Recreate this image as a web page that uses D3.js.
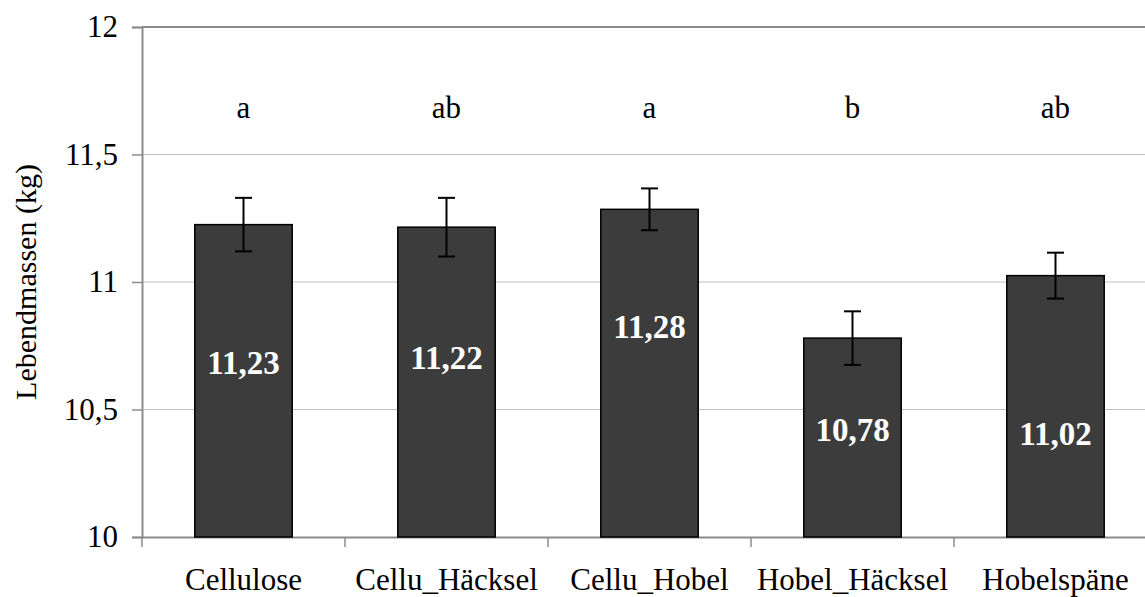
<!DOCTYPE html>
<html>
<head>
<meta charset="utf-8">
<script src="https://cdn.jsdelivr.net/npm/d3@7"></script>
<style>
    body { margin: 0; background: #fff; }
    text { font-family: "Liberation Serif", "Times New Roman", serif; }
</style>
</head>
<body>
<div id="chart"></div>
<script>

let groups = ['Cellulose', 'Cellu_Häcksel', 'Cellu_Hobel', 'Hobel_Häcksel', 'Hobelspäne'];
let means = [11.225, 11.215, 11.285, 10.78, 11.025];
let meanLabels = ['11,23', '11,22', '11,28', '10,78', '11,02'];
let errors = [0.105, 0.115, 0.082, 0.105, 0.09];
let letters = ['a', 'ab', 'a', 'b', 'ab'];
let yTicks = [10, 10.5, 11, 11.5, 12];
// where the value labels sit inside the bars (in kg), placed by hand in the original
let labelAt = [10.64, 10.66, 10.78, 10.375, 10.36];

const width = 1145, height = 597;
const mg = {top: 27, left: 142};
const plotW = 1015, plotH = 510;

const svg = d3.select('#chart').append('svg')
    .attr('width', width)
    .attr('height', height);

const x = d3.scaleBand().domain(groups).range([mg.left, mg.left + plotW]).paddingInner(0.52).paddingOuter(0.26);
const xCat = d3.scaleBand().domain(groups).range([mg.left, mg.left + plotW]);
const y = d3.scaleLinear().domain([10, 12]).range([mg.top + plotH, mg.top]);

// gridlines
svg.append('g')
    .selectAll('line').data(yTicks.slice(1, -1)).enter().append('line')
    .attr('x1', mg.left).attr('x2', mg.left + plotW)
    .attr('y1', d => y(d)).attr('y2', d => y(d))
    .attr('stroke', '#c0c0c0').attr('stroke-width', 1.2);

// top border
svg.append('line')
    .attr('x1', mg.left).attr('x2', mg.left + plotW)
    .attr('y1', y(12)).attr('y2', y(12))
    .attr('stroke', '#8c8c8c').attr('stroke-width', 2);

// y axis
const yAxis = svg.append('g')
    .attr('transform', 'translate(' + mg.left + ',0)')
    .call(d3.axisLeft(y).tickValues(yTicks).tickSize(10).tickPadding(14)
        .tickFormat(d => String(d).replace('.', ',')));
yAxis.select('.domain').attr('stroke', '#8c8c8c').attr('stroke-width', 2);
yAxis.selectAll('.tick line').attr('stroke', '#8c8c8c').attr('stroke-width', 1.5);
yAxis.selectAll('.tick text').attr('font-size', 31).attr('fill', '#000');

// x axis
const xAxis = svg.append('g')
    .attr('transform', 'translate(0,' + y(10) + ')')
    .call(d3.axisBottom(xCat).tickSize(0).tickPadding(31));
xAxis.select('.domain').attr('stroke', '#8c8c8c').attr('stroke-width', 2);
xAxis.selectAll('.tick text').attr('font-size', 31).attr('fill', '#000');
// category separators
svg.append('g')
    .selectAll('line').data(groups).enter().append('line')
    .attr('x1', d => xCat(d)).attr('x2', d => xCat(d))
    .attr('y1', y(10)).attr('y2', y(10) + 10)
    .attr('stroke', '#8c8c8c').attr('stroke-width', 1.5);

// bars
svg.append('g')
    .selectAll('rect').data(groups).enter().append('rect')
    .attr('x', d => x(d))
    .attr('y', (d, i) => y(means[i]))
    .attr('width', x.bandwidth())
    .attr('height', (d, i) => y(10) - y(means[i]))
    .attr('fill', '#3c3c3c')
    .attr('stroke', '#000')
    .attr('stroke-width', 1.5);

// error bars
const eb = svg.append('g').attr('stroke', '#000').attr('stroke-width', 2);
groups.forEach((g, i) => {
    let cx = x(g) + x.bandwidth() / 2;
    eb.append('line').attr('x1', cx).attr('x2', cx)
        .attr('y1', y(means[i] + errors[i])).attr('y2', y(means[i] - errors[i]));
    [means[i] + errors[i], means[i] - errors[i]].forEach(v => {
        eb.append('line').attr('x1', cx - 8.5).attr('x2', cx + 8.5)
            .attr('y1', y(v)).attr('y2', y(v));
    });
});

// value labels
svg.append('g')
    .selectAll('text').data(groups).enter().append('text')
    .attr('x', d => x(d) + x.bandwidth() / 2)
    .attr('y', (d, i) => y(labelAt[i]))
    .attr('text-anchor', 'middle')
    .attr('font-size', 33)
    .attr('font-weight', 'bold')
    .attr('fill', '#fff')
    .text((d, i) => meanLabels[i]);

// significance letters
svg.append('g')
    .selectAll('text').data(groups).enter().append('text')
    .attr('x', d => x(d) + x.bandwidth() / 2)
    .attr('y', 118)
    .attr('text-anchor', 'middle')
    .attr('font-size', 31)
    .attr('fill', '#000')
    .text((d, i) => letters[i]);

// y title
svg.append('text')
    .attr('transform', 'translate(36,' + (y(11)) + ') rotate(-90)')
    .attr('text-anchor', 'middle')
    .attr('font-size', 30)
    .attr('fill', '#000')
    .text('Lebendmassen (kg)');

</script>
</body>
</html>
